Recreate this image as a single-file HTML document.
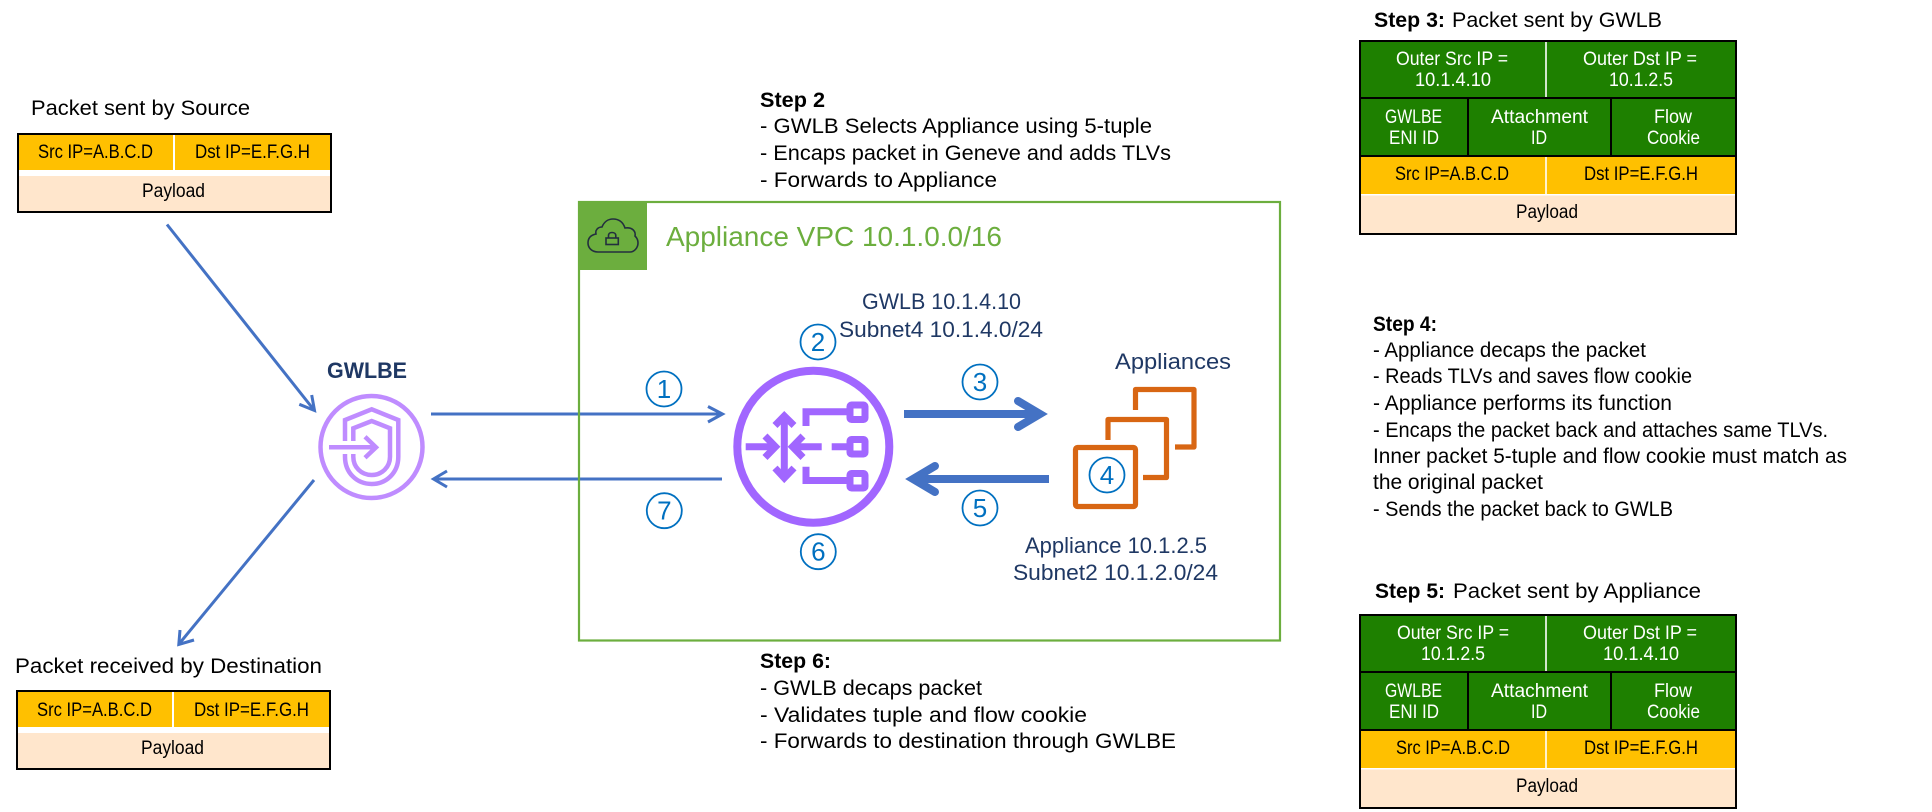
<!DOCTYPE html>
<html lang="en">
<head>
<meta charset="utf-8">
<title>Gateway Load Balancer packet flow</title>
<style>
html,body{margin:0;padding:0;background:#fff;width:1932px;height:812px;overflow:hidden}
svg{display:block}
text{font-family:"Liberation Sans",Arial,sans-serif;white-space:pre}
.s{font-size:21px;fill:#000}
.b{font-size:21px;font-weight:bold;fill:#000}
.t{font-size:19px;fill:#000}
.w{font-size:19px;fill:#fff}
.n{font-size:22px;fill:#1f3864}
.d{font-size:26px;fill:#0070c0;text-anchor:middle}
</style>
</head>
<body>
<svg width="1932" height="812" viewBox="0 0 1932 812" xmlns="http://www.w3.org/2000/svg">
<rect width="1932" height="812" fill="#fff"/>

<!-- Source packet -->
<text class="s" x="31" y="115" textLength="219" lengthAdjust="spacingAndGlyphs">Packet sent by Source</text>
<rect x="18" y="134" width="313" height="78" fill="#fff" stroke="#000" stroke-width="2"/>
<rect x="19" y="135" width="311" height="35" fill="#ffc000"/>
<rect x="19" y="176" width="311" height="35" fill="#ffe6cc"/>
<rect x="173" y="135" width="2" height="35" fill="#fff"/>
<text class="t" x="38" y="158" textLength="115" lengthAdjust="spacingAndGlyphs">Src IP=A.B.C.D</text>
<text class="t" x="195" y="158" textLength="115" lengthAdjust="spacingAndGlyphs">Dst IP=E.F.G.H</text>
<text class="t" x="142" y="197" textLength="63" lengthAdjust="spacingAndGlyphs">Payload</text>

<!-- Destination packet -->
<text class="s" x="15" y="673" textLength="307" lengthAdjust="spacingAndGlyphs">Packet received by Destination</text>
<rect x="17" y="691" width="313" height="78" fill="#fff" stroke="#000" stroke-width="2"/>
<rect x="18" y="692" width="311" height="35" fill="#ffc000"/>
<rect x="18" y="733" width="311" height="35" fill="#ffe6cc"/>
<rect x="172" y="692" width="2" height="35" fill="#fff"/>
<text class="t" x="37" y="716" textLength="115" lengthAdjust="spacingAndGlyphs">Src IP=A.B.C.D</text>
<text class="t" x="194" y="716" textLength="115" lengthAdjust="spacingAndGlyphs">Dst IP=E.F.G.H</text>
<text class="t" x="141" y="754" textLength="63" lengthAdjust="spacingAndGlyphs">Payload</text>

<!-- Thin arrows -->
<g fill="none" stroke="#4472c4" stroke-width="3">
  <path d="M167 224.5L314 410"/>
  <path d="M299.3 404.3L314.5 410.5L311.7 395"/>
  <path d="M314 480L179 644"/>
  <path d="M194 640L178.8 644.5L180 630"/>
  <path d="M431 414H722"/>
  <path d="M708 406.5L722.5 414L708 422"/>
  <path d="M722 479H434"/>
  <path d="M447 471L433.5 479L447 487"/>
</g>

<!-- GWLBE -->
<text x="327" y="378" font-size="22" font-weight="bold" fill="#1f3864" textLength="80" lengthAdjust="spacingAndGlyphs">GWLBE</text>
<g fill="none" stroke="#bf8cff" stroke-width="4.5">
  <circle cx="371.5" cy="447" r="51"/>
  <path d="M345 441V420L371.7 409.3L398.3 420V456.7C398.3 473 386 484 371.7 484C357 484 345 473 345 456.7V454"/>
  <path d="M353.3 441V428.3L371.7 421L390 428.3V456.7C390 467 382 475 371.7 475C361 475 353.3 467 353.3 456.7V454"/>
  <path d="M329 447.3H376"/>
  <path d="M365 436.7L376 447.3L365 457.7"/>
</g>

<!-- VPC box -->
<rect x="579" y="202" width="701" height="438.5" fill="none" stroke="#6cae3e" stroke-width="2.2"/>
<rect x="578" y="201" width="69" height="69" fill="#6cae3e"/>
<g fill="none" stroke="#232f3e" stroke-width="1.6">
  <path d="M598 252C592 252 588 248 588 243C588 238 591 235 596 234C595 230 598 227 602 227C604 222 608 219 613 219C619 219 623 222 625 228C632 227 636 231 635 236C637 238 638 240 638 243C638 248 634 252 630 252Z"/>
  <rect x="606" y="238" width="12.3" height="6.5"/>
  <path d="M608.5 238V235.5C608.5 233.5 610 232.5 612 232.5C614 232.5 615.8 233.5 615.8 235.5V238"/>
</g>
<text x="666" y="246" font-size="28" fill="#6cae3e" textLength="336" lengthAdjust="spacingAndGlyphs">Appliance VPC 10.1.0.0/16</text>

<!-- Step 2 -->
<text class="b" x="760" y="107" textLength="65" lengthAdjust="spacingAndGlyphs">Step 2</text>
<text class="s" x="760" y="133" textLength="392" lengthAdjust="spacingAndGlyphs">- GWLB Selects Appliance using 5-tuple</text>
<text class="s" x="760" y="160" textLength="411" lengthAdjust="spacingAndGlyphs">- Encaps packet in Geneve and adds TLVs</text>
<text class="s" x="760" y="187" textLength="237" lengthAdjust="spacingAndGlyphs">- Forwards to Appliance</text>

<!-- Navy labels -->
<text class="n" x="862" y="309" textLength="159" lengthAdjust="spacingAndGlyphs">GWLB 10.1.4.10</text>
<text class="n" x="839" y="337" textLength="204" lengthAdjust="spacingAndGlyphs">Subnet4 10.1.4.0/24</text>
<text class="n" x="1115" y="369" textLength="116" lengthAdjust="spacingAndGlyphs">Appliances</text>
<text class="n" x="1025" y="553" textLength="182" lengthAdjust="spacingAndGlyphs">Appliance 10.1.2.5</text>
<text class="n" x="1013" y="580" textLength="205" lengthAdjust="spacingAndGlyphs">Subnet2 10.1.2.0/24</text>

<!-- GWLB icon -->
<g fill="none" stroke="#a166ff" stroke-width="7">
  <circle cx="813.3" cy="446.7" r="76" stroke-width="8"/>
  <path d="M784.3 416V478"/>
  <path d="M775 425.5L784.3 416L794 425.5" stroke-width="7"/>
  <path d="M775 468L784.3 478L794 468" stroke-width="7"/>
  <path d="M745.7 446.7H773"/>
  <path d="M765 436L775.5 446.7L765 457.5" stroke-width="7"/>
  <path d="M795 446.7H821.7"/>
  <path d="M803 436L792.5 446.7L803 457.5" stroke-width="7"/>
  <path d="M831.7 446.7H850"/>
  <path d="M806 426V411.7H850"/>
  <path d="M806 466.7V480.5H850"/>
  <rect x="850" y="405" width="15" height="14.5" rx="1.5"/>
  <rect x="850" y="439.5" width="15" height="14.5" rx="1.5"/>
  <rect x="850" y="473.5" width="15" height="14.5" rx="1.5"/>
</g>

<!-- Thick arrows -->
<g fill="none" stroke="#4472c4" stroke-width="8">
  <path d="M904 414H1040"/>
  <path d="M1018 401L1040 414L1018 427" stroke-linecap="round"/>
  <path d="M1049 479H913"/>
  <path d="M935 466L913 479L935 492" stroke-linecap="round"/>
</g>

<!-- Appliances icon -->
<g fill="none" stroke="#d86613" stroke-width="5.2" stroke-linejoin="round">
  <path d="M1135.5 410V389.5H1194V447H1175"/>
  <path d="M1108 440V419.5H1166.5V477.5H1143"/>
  <rect x="1075.5" y="447.5" width="60" height="59" rx="2"/>
</g>

<!-- Step circles -->
<g fill="none" stroke="#0070c0" stroke-width="1.8">
  <circle cx="664" cy="389" r="17.5"/>
  <circle cx="818" cy="342" r="17.5"/>
  <circle cx="980" cy="382" r="17.5"/>
  <circle cx="1107" cy="475" r="17.5"/>
  <circle cx="980" cy="508" r="17.5"/>
  <circle cx="818.3" cy="551.7" r="17.5"/>
  <circle cx="664.3" cy="510.7" r="17.5"/>
</g>
<text class="d" x="664" y="398">1</text>
<text class="d" x="818" y="351">2</text>
<text class="d" x="980" y="391">3</text>
<text class="d" x="1107" y="484">4</text>
<text class="d" x="980" y="517">5</text>
<text class="d" x="818.3" y="560.7">6</text>
<text class="d" x="664.3" y="519.7">7</text>

<!-- Step 6 -->
<text class="b" x="760" y="668" textLength="71" lengthAdjust="spacingAndGlyphs">Step 6:</text>
<text class="s" x="760" y="695" textLength="222" lengthAdjust="spacingAndGlyphs">- GWLB decaps packet</text>
<text class="s" x="760" y="722" textLength="327" lengthAdjust="spacingAndGlyphs">- Validates tuple and flow cookie</text>
<text class="s" x="760" y="748" textLength="416" lengthAdjust="spacingAndGlyphs">- Forwards to destination through GWLBE</text>

<!-- Step 3 -->
<text class="b" x="1374" y="27" textLength="71" lengthAdjust="spacingAndGlyphs">Step 3:</text>
<text class="s" x="1452" y="27" textLength="210" lengthAdjust="spacingAndGlyphs">Packet sent by GWLB</text>
<g>
  <rect x="1360" y="41" width="376" height="193" fill="#fff" stroke="#000" stroke-width="2"/>
  <rect x="1361" y="42" width="374" height="114" fill="#1e8000"/>
  <rect x="1361" y="157" width="374" height="37" fill="#ffc000"/>
  <rect x="1361" y="195.5" width="374" height="37.5" fill="#ffe6cc"/>
  <path d="M1360 98H1736M1360 156H1736M1468 98V156M1611 98V156" stroke="#000" stroke-width="2" fill="none"/>
  <path d="M1546 42V97M1546 157V194" stroke="#fff" stroke-width="1.6" fill="none"/>
</g>
<text class="w" x="1396" y="65" textLength="112" lengthAdjust="spacingAndGlyphs">Outer Src IP =</text>
<text class="w" x="1415" y="86" textLength="76" lengthAdjust="spacingAndGlyphs">10.1.4.10</text>
<text class="w" x="1583" y="65" textLength="114" lengthAdjust="spacingAndGlyphs">Outer Dst IP =</text>
<text class="w" x="1609" y="86" textLength="64" lengthAdjust="spacingAndGlyphs">10.1.2.5</text>
<text class="w" x="1385" y="123" textLength="57" lengthAdjust="spacingAndGlyphs">GWLBE</text>
<text class="w" x="1389" y="144" textLength="50" lengthAdjust="spacingAndGlyphs">ENI ID</text>
<text class="w" x="1491" y="123" textLength="97" lengthAdjust="spacingAndGlyphs">Attachment</text>
<text class="w" x="1531" y="144" textLength="16" lengthAdjust="spacingAndGlyphs">ID</text>
<text class="w" x="1654" y="123" textLength="38" lengthAdjust="spacingAndGlyphs">Flow</text>
<text class="w" x="1647" y="144" textLength="53" lengthAdjust="spacingAndGlyphs">Cookie</text>
<text class="t" x="1395" y="180" textLength="114" lengthAdjust="spacingAndGlyphs">Src IP=A.B.C.D</text>
<text class="t" x="1584" y="180" textLength="114" lengthAdjust="spacingAndGlyphs">Dst IP=E.F.G.H</text>
<text class="t" x="1516" y="218" textLength="62" lengthAdjust="spacingAndGlyphs">Payload</text>

<!-- Step 4 -->
<text class="b" x="1373" y="331" textLength="64" lengthAdjust="spacingAndGlyphs">Step 4:</text>
<text class="s" x="1373" y="357" textLength="273" lengthAdjust="spacingAndGlyphs">- Appliance decaps the packet</text>
<text class="s" x="1373" y="383" textLength="319" lengthAdjust="spacingAndGlyphs">- Reads TLVs and saves flow cookie</text>
<text class="s" x="1373" y="410" textLength="299" lengthAdjust="spacingAndGlyphs">- Appliance performs its function</text>
<text class="s" x="1373" y="437" textLength="455" lengthAdjust="spacingAndGlyphs">- Encaps the packet back and attaches same TLVs.</text>
<text class="s" x="1373" y="463" textLength="474" lengthAdjust="spacingAndGlyphs">Inner packet 5-tuple and flow cookie must match as</text>
<text class="s" x="1373" y="489" textLength="170" lengthAdjust="spacingAndGlyphs">the original packet</text>
<text class="s" x="1373" y="516" textLength="300" lengthAdjust="spacingAndGlyphs">- Sends the packet back to GWLB</text>

<!-- Step 5 -->
<text class="b" x="1375" y="598" textLength="70" lengthAdjust="spacingAndGlyphs">Step 5:</text>
<text class="s" x="1453" y="598" textLength="248" lengthAdjust="spacingAndGlyphs">Packet sent by Appliance</text>
<g transform="translate(0 574)">
  <rect x="1360" y="41" width="376" height="193" fill="#fff" stroke="#000" stroke-width="2"/>
  <rect x="1361" y="42" width="374" height="114" fill="#1e8000"/>
  <rect x="1361" y="157" width="374" height="37" fill="#ffc000"/>
  <rect x="1361" y="195.5" width="374" height="37.5" fill="#ffe6cc"/>
  <path d="M1360 98H1736M1360 156H1736M1468 98V156M1611 98V156" stroke="#000" stroke-width="2" fill="none"/>
  <path d="M1546 42V97M1546 157V194" stroke="#fff" stroke-width="1.6" fill="none"/>
</g>
<text class="w" x="1397" y="639" textLength="112" lengthAdjust="spacingAndGlyphs">Outer Src IP =</text>
<text class="w" x="1421" y="660" textLength="64" lengthAdjust="spacingAndGlyphs">10.1.2.5</text>
<text class="w" x="1583" y="639" textLength="114" lengthAdjust="spacingAndGlyphs">Outer Dst IP =</text>
<text class="w" x="1603" y="660" textLength="76" lengthAdjust="spacingAndGlyphs">10.1.4.10</text>
<text class="w" x="1385" y="697" textLength="57" lengthAdjust="spacingAndGlyphs">GWLBE</text>
<text class="w" x="1389" y="718" textLength="50" lengthAdjust="spacingAndGlyphs">ENI ID</text>
<text class="w" x="1491" y="697" textLength="97" lengthAdjust="spacingAndGlyphs">Attachment</text>
<text class="w" x="1531" y="718" textLength="16" lengthAdjust="spacingAndGlyphs">ID</text>
<text class="w" x="1654" y="697" textLength="38" lengthAdjust="spacingAndGlyphs">Flow</text>
<text class="w" x="1647" y="718" textLength="53" lengthAdjust="spacingAndGlyphs">Cookie</text>
<text class="t" x="1396" y="754" textLength="114" lengthAdjust="spacingAndGlyphs">Src IP=A.B.C.D</text>
<text class="t" x="1584" y="754" textLength="114" lengthAdjust="spacingAndGlyphs">Dst IP=E.F.G.H</text>
<text class="t" x="1516" y="792" textLength="62" lengthAdjust="spacingAndGlyphs">Payload</text>
</svg>
</body>
</html>
